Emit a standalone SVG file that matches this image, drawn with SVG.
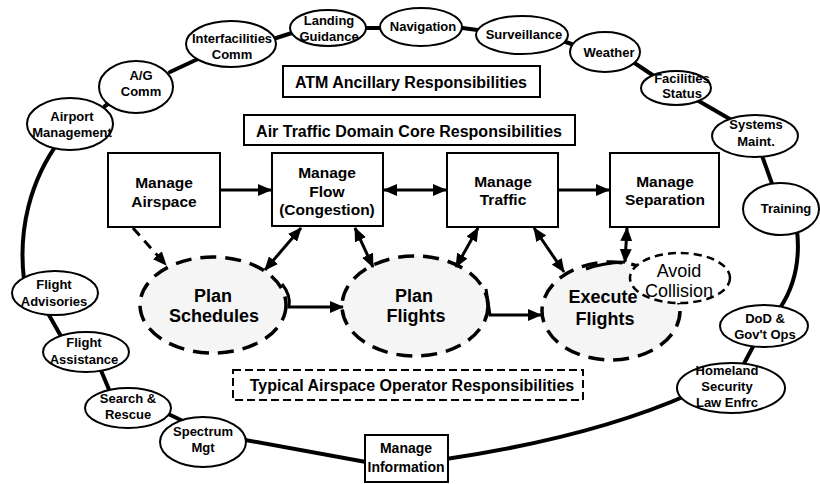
<svg xmlns="http://www.w3.org/2000/svg" width="820" height="484" viewBox="0 0 820 484">
<style>
.n ellipse{fill:#fff;stroke:#000;stroke-width:2}
.t{font-family:"Liberation Sans",Arial,sans-serif;font-weight:bold;font-size:13px;text-anchor:middle;fill:#000}
.bt{font-size:15.5px}
.lt{font-size:16px}
.pt{font-size:18px}
.rt{font-weight:normal;font-size:18px}
.loop{fill:none;stroke:#000;stroke-width:4;stroke-linecap:round}
.box{fill:#fff;stroke:#000;stroke-width:2}
.big{fill:#f5f5f5;stroke:#000;stroke-width:3.5;stroke-dasharray:16 9}
.arr{fill:none;stroke:#000;stroke-width:3}
</style>
<defs>
<marker id="ah" viewBox="0 0 14 12" markerWidth="14" markerHeight="12" refX="13" refY="6" orient="auto-start-reverse" markerUnits="userSpaceOnUse">
<path d="M0,0 L14,6 L0,12 z" fill="#000"/>
</marker>
</defs>
<rect width="820" height="484" fill="#fff"/>

<g id="loop-connectors" class="loop">
<path d="M60 140 C30 180 18 230 24 280"/>
<path d="M45 308 L62 338"/>
<path d="M100 368 L110 392"/>
<path d="M160 410 L185 422"/>
<path d="M240 439 Q310 452 366 462"/>
<path d="M446 459 C540 445 620 425 690 394"/>
<path d="M731 388 L764 326"/>
<path d="M797 230 Q802 275 780 308"/>
<path d="M755 136 L781 209"/>
<path d="M690 96 L735 122"/>
<path d="M630 60 L660 80"/>
<path d="M560 40 L580 47"/>
<path d="M455 27 L485 31"/>
<path d="M360 28 L385 28"/>
<path d="M270 40 L295 32"/>
<path d="M170 72 L200 58"/>
<path d="M105 106 L125 92"/>
</g>

<g id="airport" class="n"><ellipse cx="70" cy="124" rx="43" ry="26"/><text class="t" x="72" y="121">Airport</text><text class="t" x="72" y="137">Management</text></g>
<g id="ag-comm" class="n"><ellipse cx="136" cy="87" rx="37" ry="26"/><text class="t" x="141" y="80">A/G</text><text class="t" x="141" y="96">Comm</text></g>
<g id="interfacilities" class="n"><ellipse cx="231" cy="44" rx="45" ry="23"/><text class="t" x="232" y="43">Interfacilities</text><text class="t" x="232" y="59">Comm</text></g>
<g id="landing" class="n"><ellipse cx="328" cy="28" rx="38" ry="18"/><text class="t" x="329" y="25">Landing</text><text class="t" x="329" y="41">Guidance</text></g>
<g id="navigation" class="n"><ellipse cx="421" cy="27" rx="41" ry="19"/><text class="t" x="423" y="31">Navigation</text></g>
<g id="surveillance" class="n"><ellipse cx="522" cy="35" rx="46" ry="19"/><text class="t" x="524" y="39">Surveillance</text></g>
<g id="weather" class="n"><ellipse cx="605" cy="52" rx="35" ry="20"/><text class="t" x="609" y="57">Weather</text></g>
<g id="facilities" class="n"><ellipse cx="676" cy="88" rx="35" ry="17"/><text class="t" x="682" y="83">Facilities</text><text class="t" x="682" y="98">Status</text></g>
<g id="systems" class="n"><ellipse cx="755" cy="136" rx="43" ry="21"/><text class="t" x="756" y="129">Systems</text><text class="t" x="756" y="146">Maint.</text></g>
<g id="training" class="n"><ellipse cx="781" cy="209" rx="38" ry="26"/><text class="t" x="786" y="213">Training</text></g>
<g id="dod" class="n"><ellipse cx="764" cy="326" rx="44" ry="21"/><text class="t" x="765" y="323">DoD &amp;</text><text class="t" x="765" y="339">Gov't Ops</text></g>
<g id="homeland" class="n"><ellipse cx="731" cy="388" rx="54" ry="25"/><text class="t" x="727" y="375">Homeland</text><text class="t" x="727" y="391">Security</text><text class="t" x="727" y="407">Law Enfrc</text></g>
<g id="advisories" class="n"><ellipse cx="55" cy="293" rx="43" ry="22"/><text class="t" x="54" y="289">Flight</text><text class="t" x="54" y="306">Advisories</text></g>
<g id="assistance" class="n"><ellipse cx="86" cy="352" rx="43" ry="20"/><text class="t" x="84" y="347">Flight</text><text class="t" x="84" y="364">Assistance</text></g>
<g id="search" class="n"><ellipse cx="128" cy="408" rx="43" ry="20"/><text class="t" x="128" y="403">Search &amp;</text><text class="t" x="128" y="419">Rescue</text></g>
<g id="spectrum" class="n"><ellipse cx="203" cy="442" rx="43" ry="25"/><text class="t" x="203" y="436">Spectrum</text><text class="t" x="203" y="452">Mgt</text></g>

<g id="manage-information"><rect class="box" x="365" y="435" width="83" height="47"/><text class="t" x="406" y="453" style="font-size:14px">Manage</text><text class="t" x="406" y="472" style="font-size:14px">Information</text></g>

<g id="atm-ancillary"><rect class="box" x="283" y="66" width="257" height="31"/><text class="t lt" x="411" y="88">ATM Ancillary Responsibilities</text></g>
<g id="core-resp"><rect class="box" x="244" y="115" width="331" height="30"/><text class="t lt" x="409" y="137">Air Traffic Domain Core Responsibilities</text></g>
<g id="operator-resp"><rect x="233" y="370" width="350" height="30" fill="#fff" stroke="#000" stroke-width="2" stroke-dasharray="8 4"/><text class="t lt" x="412" y="391">Typical Airspace Operator Responsibilities</text></g>

<g id="manage-airspace"><rect class="box" x="108" y="153" width="112" height="74"/><text class="t bt" x="164" y="188">Manage</text><text class="t bt" x="164" y="207">Airspace</text></g>
<g id="manage-flow"><rect class="box" x="272" y="153" width="111" height="73"/><text class="t bt" x="327" y="178">Manage</text><text class="t bt" x="327" y="197">Flow</text><text class="t bt" x="327" y="215">(Congestion)</text></g>
<g id="manage-traffic"><rect class="box" x="447" y="153" width="111" height="74"/><text class="t bt" x="503" y="187">Manage</text><text class="t bt" x="503" y="205">Traffic</text></g>
<g id="manage-separation"><rect class="box" x="610" y="153" width="109" height="74"/><text class="t bt" x="665" y="187">Manage</text><text class="t bt" x="665" y="205">Separation</text></g>

<g id="plan-schedules"><ellipse class="big" cx="213" cy="305" rx="73" ry="48"/><text class="t pt" x="213" y="302">Plan</text><text class="t pt" x="214" y="322">Schedules</text></g>
<g id="plan-flights"><ellipse class="big" cx="415" cy="306" rx="73" ry="50"/><text class="t pt" x="414" y="302">Plan</text><text class="t pt" x="416" y="322">Flights</text></g>
<g id="execute-flights"><ellipse class="big" cx="611" cy="311" rx="69" ry="49"/><text class="t pt" x="603" y="303">Execute</text><text class="t pt" x="605" y="325">Flights</text></g>
<g id="avoid-collision"><ellipse cx="680" cy="278" rx="50" ry="25" fill="#fff" stroke="#000" stroke-width="2.5" stroke-dasharray="8 5"/><text class="t rt" x="679" y="277">Avoid</text><text class="t rt" x="679" y="297">Collision</text></g>

<g id="arrow-connectors" class="arr">
<path d="M220 190 L271 190" marker-end="url(#ah)"/>
<path d="M384 190 L446 190" marker-start="url(#ah)" marker-end="url(#ah)"/>
<path d="M558 190 L609 190" marker-end="url(#ah)"/>
<path d="M133 228 L166 265" stroke-dasharray="10 7" marker-end="url(#ah)"/>
<path d="M301 228 L265 270" marker-start="url(#ah)" marker-end="url(#ah)"/>
<path d="M355 228 L373 267" marker-start="url(#ah)" marker-end="url(#ah)"/>
<path d="M282 284 Q291 295 289 307 L343 307" marker-end="url(#ah)"/>
<path d="M478 228 L456 267" marker-start="url(#ah)" marker-end="url(#ah)"/>
<path d="M534 228 L564 272" marker-start="url(#ah)" marker-end="url(#ah)"/>
<path d="M486 289 L490 315 L541 315" marker-end="url(#ah)"/>
<path d="M586 269 Q602 263 625 262"/>
<path d="M627 228 L625 262" marker-start="url(#ah)" marker-end="url(#ah)"/>
</g>
</svg>
